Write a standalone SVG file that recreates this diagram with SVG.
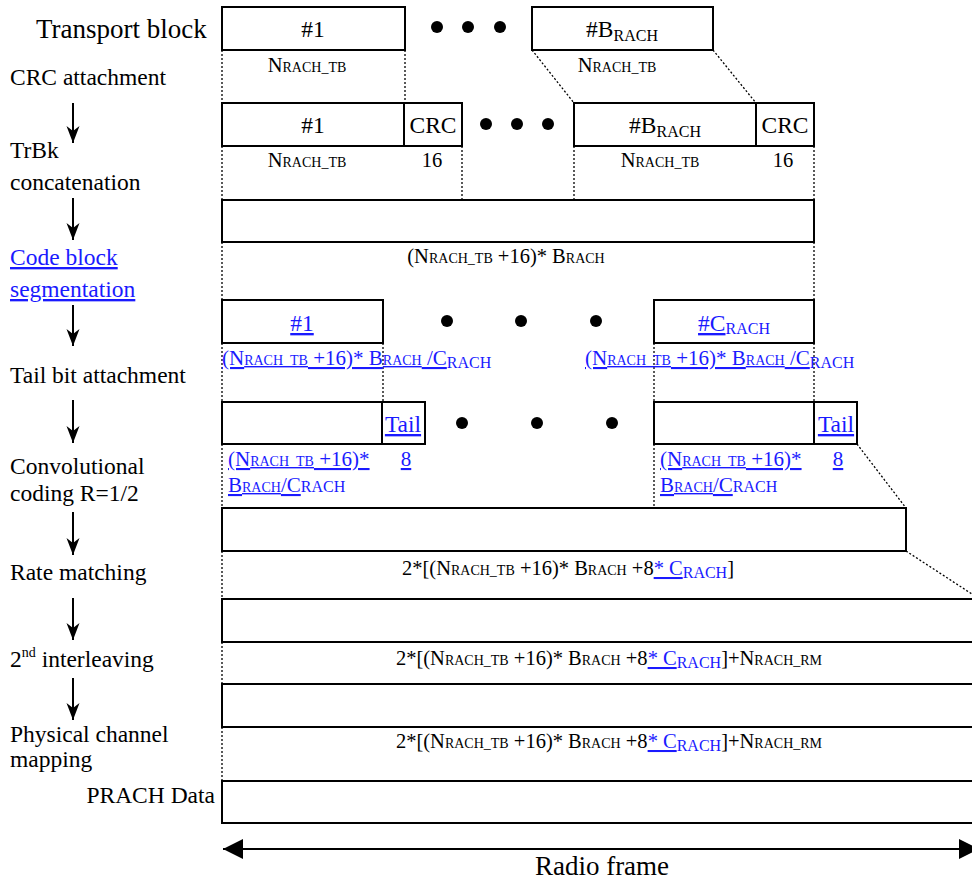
<svg xmlns="http://www.w3.org/2000/svg" width="972" height="881" viewBox="0 0 972 881">
<style>
text { font-family: "Liberation Serif", "Times New Roman", serif; fill:#000; }
.l { font-size:23.5px; }
.tb { font-size:27px; }
.bx { font-size:23.5px; text-anchor:middle; }
.m { font-size:20.5px; }
.c { text-anchor:middle; }
.s { font-size:14px; }
.sub { font-size:16px; }
.bl { fill:#1a1aff; }
.u { fill:#1a1aff; text-decoration:underline; }
.box { fill:#fff; stroke:#000; stroke-width:2; }
.dt { stroke:#000; stroke-width:1.3; stroke-dasharray:2 2; fill:none; }
.ar { stroke:#000; stroke-width:2; fill:none; }
.dotc { fill:#000; }
</style>
<defs>
<marker id="ah" markerUnits="userSpaceOnUse" markerWidth="18" markerHeight="14" refX="17" refY="6.5" orient="auto">
<path d="M0,0 L17,6.5 L0,13 L5,6.5 Z" fill="#000"/>
</marker>
<marker id="tri" markerUnits="userSpaceOnUse" markerWidth="21" markerHeight="21" refX="20" refY="10" orient="auto-start-reverse">
<path d="M0,0 L20,10 L0,20 Z" fill="#000"/>
</marker>
</defs>

<g id="left-labels">
<text class="tb" x="36" y="38">Transport block</text>
<text class="l" x="10" y="85">CRC attachment</text>
<text class="l" x="10" y="158">TrBk</text>
<text class="l" x="10" y="190">concatenation</text>
<text class="l u" x="10" y="265">Code block </text>
<text class="l u" x="10" y="297">segmentation</text>
<text class="l" x="10" y="383">Tail bit attachment</text>
<text class="l" x="10" y="474">Convolutional</text>
<text class="l" x="10" y="501">coding R=1/2</text>
<text class="l" x="10" y="580">Rate matching</text>
<text class="l" x="10" y="667">2<tspan font-size="14px" dy="-10">nd</tspan><tspan dy="10"> interleaving</tspan></text>
<text class="l" x="10" y="742">Physical channel</text>
<text class="l" x="10" y="767">mapping</text>
<text class="l" x="215" y="803" text-anchor="end">PRACH Data</text>
</g>

<g id="connectors">
<line class="ar" x1="73" y1="103" x2="73" y2="143" marker-end="url(#ah)"/>
<line class="ar" x1="73" y1="198" x2="73" y2="240" marker-end="url(#ah)"/>
<line class="ar" x1="73" y1="305" x2="73" y2="346" marker-end="url(#ah)"/>
<line class="ar" x1="73" y1="400" x2="73" y2="443" marker-end="url(#ah)"/>
<line class="ar" x1="73" y1="512" x2="73" y2="555" marker-end="url(#ah)"/>
<line class="ar" x1="73" y1="598" x2="73" y2="640" marker-end="url(#ah)"/>
<line class="ar" x1="73" y1="678" x2="73" y2="720" marker-end="url(#ah)"/>
<path class="dt" d="M222,50 V103 M405,50 V103 M532,50 L574,103 M713,50 L756,103"/>
<path class="dt" d="M222,146 V200 M462,146 V200 M574,146 V200 M814,146 V200"/>
<path class="dt" d="M222,242 V300 M814,242 V300"/>
<path class="dt" d="M222,343 V402 M383,343 V402 M654,343 V402 M814,343 V402"/>
<path class="dt" d="M222,444 V508 M654,444 V508 M857,444 L906,508"/>
<path class="dt" d="M222,551 V599 M906,551 L975,596"/>
<path class="dt" d="M222,642 V684 M222,727 V781"/>
<line class="ar" x1="223" y1="849" x2="979" y2="849" marker-start="url(#tri)" marker-end="url(#tri)"/>
</g>

<g id="transport-blocks">
<rect class="box" x="222" y="7" width="183" height="43"/>
<text class="bx" x="313" y="37">#1</text>
<circle class="dotc" cx="437" cy="27" r="6"/>
<circle class="dotc" cx="468" cy="27" r="6"/>
<circle class="dotc" cx="500" cy="27" r="6"/>
<rect class="box" x="532" y="7" width="181" height="43"/>
<text class="bx" x="622" y="37">#B<tspan class="sub" dy="4">RACH</tspan></text>
<text class="m c" x="307" y="72">N<tspan class="s">RACH_TB</tspan></text>
<text class="m c" x="617" y="72">N<tspan class="s">RACH_TB</tspan></text>
</g>

<g id="crc-attached">
<rect class="box" x="222" y="103" width="182" height="43"/>
<rect class="box" x="404" y="103" width="58" height="43"/>
<text class="bx" x="313" y="133">#1</text>
<text class="bx" x="433" y="133">CRC</text>
<circle class="dotc" cx="486" cy="124" r="6"/>
<circle class="dotc" cx="517" cy="124" r="6"/>
<circle class="dotc" cx="548" cy="124" r="6"/>
<rect class="box" x="574" y="103" width="182" height="43"/>
<rect class="box" x="756" y="103" width="58" height="43"/>
<text class="bx" x="665" y="133">#B<tspan class="sub" dy="4">RACH</tspan></text>
<text class="bx" x="785" y="133">CRC</text>
<text class="m c" x="307" y="167">N<tspan class="s">RACH_TB</tspan></text>
<text class="m c" x="432" y="167">16</text>
<text class="m c" x="660" y="167">N<tspan class="s">RACH_TB</tspan></text>
<text class="m c" x="783" y="167">16</text>
</g>

<g id="concatenated">
<rect class="box" x="222" y="200" width="592" height="42"/>
<text class="m c" x="506" y="263">(N<tspan class="s">RACH_TB</tspan> +16)* B<tspan class="s">RACH</tspan></text>
</g>

<g id="code-blocks">
<rect class="box" x="222" y="300" width="161" height="43"/>
<text class="bx" x="302" y="331"><tspan class="u">#1</tspan></text>
<circle class="dotc" cx="447" cy="321" r="6"/>
<circle class="dotc" cx="521" cy="321" r="6"/>
<circle class="dotc" cx="596" cy="321" r="6"/>
<rect class="box" x="654" y="300" width="160" height="43"/>
<text class="bx" x="734" y="331"><tspan class="u">#C</tspan><tspan class="sub bl" dy="3">RACH</tspan></text>
<text font-size="21px" x="222" y="365"><tspan class="u">(N</tspan><tspan class="s u">RACH_TB</tspan><tspan class="u"> +16)* B</tspan><tspan class="s u">RACH</tspan><tspan class="u"> /C</tspan><tspan class="sub bl" dy="3">RACH</tspan></text>
<text font-size="21px" x="585" y="365"><tspan class="u">(N</tspan><tspan class="s u">RACH_TB</tspan><tspan class="u"> +16)* B</tspan><tspan class="s u">RACH</tspan><tspan class="u"> /C</tspan><tspan class="sub bl" dy="3">RACH</tspan></text>
</g>

<g id="tail-bits">
<rect class="box" x="222" y="402" width="160" height="42"/>
<rect class="box" x="382" y="402" width="43" height="42"/>
<text class="bx" x="403" y="432"><tspan class="u">Tail</tspan></text>
<circle class="dotc" cx="462" cy="423" r="6"/>
<circle class="dotc" cx="537" cy="423" r="6"/>
<circle class="dotc" cx="612" cy="423" r="6"/>
<rect class="box" x="654" y="402" width="160" height="42"/>
<rect class="box" x="814" y="402" width="43" height="42"/>
<text class="bx" x="836" y="432"><tspan class="u">Tail</tspan></text>
<text font-size="21px" x="228" y="466"><tspan class="u">(N</tspan><tspan class="s u">RACH_TB</tspan><tspan class="u"> +16)* </tspan></text>
<text font-size="21px" x="228" y="492"><tspan class="u">B</tspan><tspan class="s u">RACH</tspan><tspan class="u">/C</tspan><tspan class="sub bl">RACH</tspan></text>
<text font-size="21px" x="406" y="466" text-anchor="middle"><tspan class="u">8</tspan></text>
<text font-size="21px" x="660" y="466"><tspan class="u">(N</tspan><tspan class="s u">RACH_TB</tspan><tspan class="u"> +16)* </tspan></text>
<text font-size="21px" x="660" y="492"><tspan class="u">B</tspan><tspan class="s u">RACH</tspan><tspan class="u">/C</tspan><tspan class="sub bl">RACH</tspan></text>
<text font-size="21px" x="838" y="466" text-anchor="middle"><tspan class="u">8</tspan></text>
</g>

<g id="conv-coded">
<rect class="box" x="222" y="508" width="684" height="43"/>
<text class="m c" x="568" y="575">2*[(N<tspan class="s">RACH_TB</tspan> +16)* B<tspan class="s">RACH</tspan> +8<tspan class="u">* C</tspan><tspan class="sub bl" dy="3">RACH</tspan><tspan dy="-3">]</tspan></text>
</g>

<g id="rate-matched">
<rect class="box" x="222" y="599" width="760" height="43"/>
<text class="m c" x="609" y="665">2*[(N<tspan class="s">RACH_TB</tspan> +16)* B<tspan class="s">RACH</tspan> +8<tspan class="u">* C</tspan><tspan class="sub bl" dy="3">RACH</tspan><tspan dy="-3">]+N</tspan><tspan class="s">RACH_RM</tspan></text>
</g>

<g id="interleaved">
<rect class="box" x="222" y="684" width="760" height="43"/>
<text class="m c" x="609" y="748">2*[(N<tspan class="s">RACH_TB</tspan> +16)* B<tspan class="s">RACH</tspan> +8<tspan class="u">* C</tspan><tspan class="sub bl" dy="3">RACH</tspan><tspan dy="-3">]+N</tspan><tspan class="s">RACH_RM</tspan></text>
</g>

<g id="prach-data">
<rect class="box" x="222" y="781" width="760" height="42"/>
</g>

<g id="radio-frame">
<text x="602" y="875" font-size="27px" text-anchor="middle">Radio frame</text>
</g>
</svg>
